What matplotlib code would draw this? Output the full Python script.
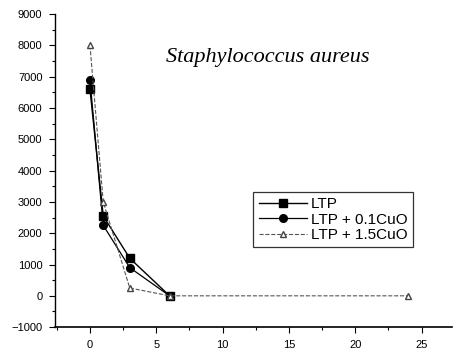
import matplotlib
matplotlib.use("Agg")
import matplotlib.pyplot as plt
from matplotlib.ticker import MultipleLocator

# data
x_ltp = [0, 1, 3, 6]
y_ltp = [6600, 2550, 1200, 0]
x_01 = [0, 1, 3, 6]
y_01 = [6900, 2250, 900, 0]
x_15 = [0, 1, 3, 6, 24]
y_15 = [8000, 3000, 250, 0, 0]
labels = ["LTP", "LTP + 0.1CuO", "LTP + 1.5CuO"]

plt.rcParams['font.family'] = ['Liberation Sans', 'DejaVu Sans']

fig = plt.figure(figsize=(4.54, 3.51), dpi=100)
ax = fig.add_axes([0.121, 0.068, 0.875, 0.892])

ax.plot(x_ltp, y_ltp, color='black', lw=1.0, marker='s', ms=5.5, label=labels[0])
ax.plot(x_01, y_01, color='black', lw=0.9, marker='o', ms=5.5, label=labels[1])
ax.plot(x_15, y_15, color='#555555', lw=0.8, ls='--', marker='^', ms=4,
        mfc='white', mec='#444444', label=labels[2])

ax.set_xlim(-2.64, 27.3)
ax.set_ylim(-1000, 9000)
ax.xaxis.set_major_locator(MultipleLocator(5))
ax.xaxis.set_minor_locator(MultipleLocator(2.5))
ax.yaxis.set_major_locator(MultipleLocator(1000))
ax.yaxis.set_minor_locator(MultipleLocator(500))
ax.tick_params(direction='out', labelsize=8, length=4, width=0.8, pad=5)
ax.tick_params(which='minor', direction='out', length=2, width=0.8)
ax.spines['top'].set_visible(False)
ax.spines['right'].set_visible(False)
ax.spines['left'].set_linewidth(1.0)
ax.spines['bottom'].set_linewidth(1.2)

ax.text(13.4, 7600, "Staphylococcus aureus", family=['Liberation Serif', 'DejaVu Serif'],
        style='italic', fontsize=16, ha='center', va='center')

leg = ax.legend(loc='lower left', bbox_to_anchor=(0.48, 0.23), fontsize=11,
                frameon=True, fancybox=False, edgecolor='black', borderpad=0.35,
                handlelength=3.2, handletextpad=0.2, labelspacing=0.1)
leg.get_frame().set_linewidth(0.9)

fig.savefig("out.png", dpi=100)
